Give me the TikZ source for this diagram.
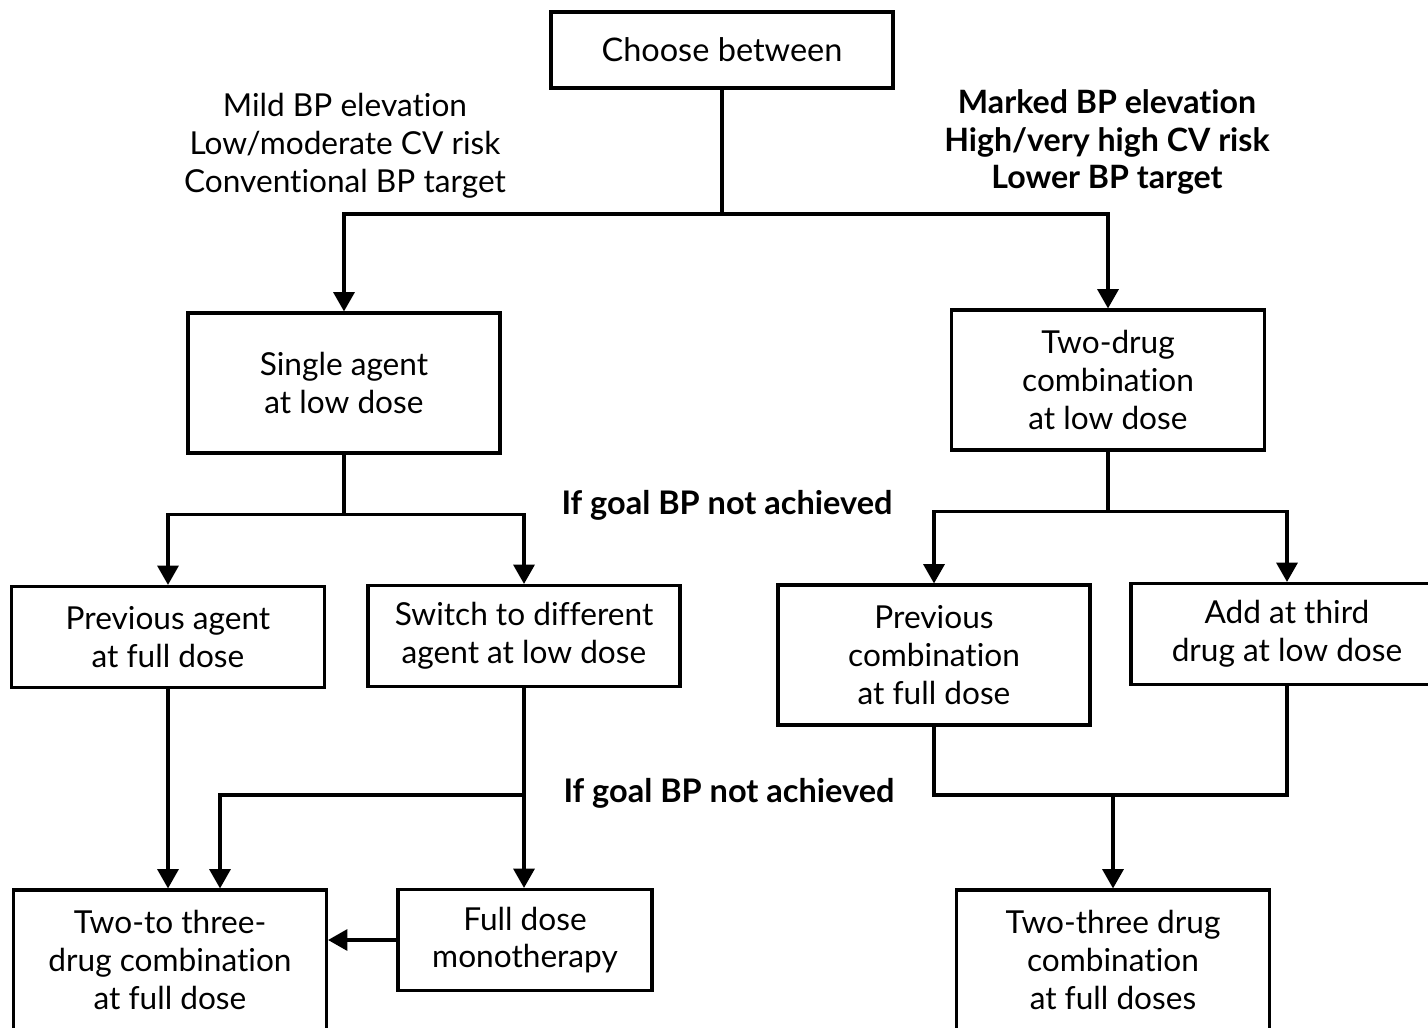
\documentclass[tikz,border=0pt]{standalone}
\usepackage{fontspec}
\setmainfont{Lato}[Ligatures={NoCommon}]
\usetikzlibrary{arrows.meta,positioning}
\newlength\unitpx
\setlength\unitpx{0.02cm}
\tikzset{
  box/.style={draw, line width=1.8pt, align=center, inner sep=0pt,
    font=\fontsize{18}{21.5}\selectfont},
  note/.style={align=center, font=\fontsize{18}{21.5}\selectfont},
  bnote/.style={note, font=\fontsize{18.3}{21.5}\selectfont\bfseries},
  conn/.style={line width=1.8pt},
}
\begin{document}
\begin{tikzpicture}[x=0.02cm, y=-0.02cm, >={Triangle[width=12pt,length=11pt]}]
\useasboundingbox (0,0) rectangle (1428,1028);
\clip (0,0) rectangle (1428,1028);
% Start
\node[box, minimum width=342\unitpx, minimum height=76\unitpx,
  font=\fontsize{18.5}{23}\selectfont] (choose) at (722,50) {Choose between};
\node[note] (mild) at (345,146) {Mild BP elevation\\Low/moderate CV risk\\Conventional BP target};
\node[bnote] (marked) at (1107,142) {Marked BP elevation\\High/very high CV risk\\Lower BP target};
% First step
\node[box, minimum width=312\unitpx, minimum height=140\unitpx] (single) at (344,383) {Single agent\\at low dose};
\node[box, minimum width=313\unitpx, minimum height=140\unitpx] (twodrug) at (1108,380) {Two-drug\\combination\\at low dose};
\node[bnote, font=\fontsize{18.5}{23}\selectfont\bfseries] (goalA) at (727,505) {If goal BP not achieved};
% Second step
\node[box, minimum width=313\unitpx, minimum height=101\unitpx] (prevagent) at (168,637) {Previous agent\\at full dose};
\node[box, minimum width=312\unitpx, minimum height=101\unitpx] (switch) at (524,636) {Switch to different\\agent at low dose};
\node[box, minimum width=312\unitpx, minimum height=140\unitpx] (prevcomb) at (934,655) {Previous\\combination\\at full dose};
\node[box, minimum width=312\unitpx, minimum height=101\unitpx] (addthird) at (1287,634) {Add at third\\drug at low dose};
\node[bnote, font=\fontsize{18.5}{23}\selectfont\bfseries] (goalB) at (729,793) {If goal BP not achieved};
% Third step
\node[box, minimum width=313\unitpx, minimum height=140\unitpx] (twotothree) at (170,960) {Two-to three-\\drug combination\\at full dose};
\node[box, minimum width=254\unitpx, minimum height=101\unitpx] (fullmono) at (525,940) {Full dose\\monotherapy};
\node[box, minimum width=313\unitpx, minimum height=140\unitpx] (twothree) at (1113,960) {Two-three drug\\combination\\at full doses};
% Connectors
\coordinate (jA) at (choose.south |- 0,214);
\draw[conn] (choose.south) -- (jA);
\draw[conn, ->] (jA) -| (single.north);
\draw[conn, ->] (jA) -| (twodrug.north);
\path (single.south) ++(0,60) coordinate (jB);
\draw[conn] (single.south) -- (jB);
\draw[conn, ->] (jB) -| (prevagent.north);
\draw[conn, ->] (jB) -| (switch.north);
\path (twodrug.south) ++(0,60) coordinate (jC);
\draw[conn] (twodrug.south) -- (jC);
\draw[conn, ->] (jC) -| (prevcomb.north);
\draw[conn, ->] (jC) -| (addthird.north);
\draw[conn, ->] (prevagent.south) -- (prevagent.south |- twotothree.north);
\draw[conn, ->] (switch.south) -- (switch.south |- fullmono.north);
\coordinate (jD) at (switch.south |- 0,795);
\draw[conn, ->] (jD) -| ([xshift=50\unitpx]twotothree.north);
\draw[conn, ->] (fullmono.west) -- (fullmono.west -| twotothree.east);
\coordinate (jE) at (addthird.south |- 0,795);
\draw[conn] (prevcomb.south) |- (jE) -- (addthird.south);
\draw[conn, ->] (twothree.north |- jE) -- (twothree.north);
\end{tikzpicture}
\end{document}
